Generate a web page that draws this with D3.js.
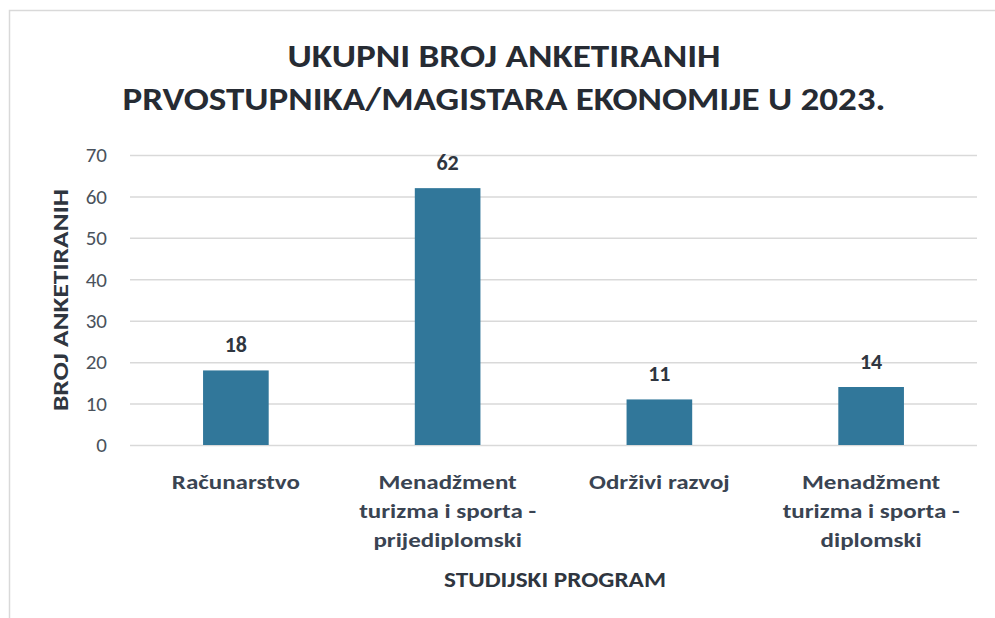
<!DOCTYPE html>
<html>

<head>
    <meta charset="utf-8">
    <title>Ukupni broj anketiranih</title>
    <script src="https://d3js.org/d3.v7.min.js"></script>
    <style>
        body { margin: 0; background: #ffffff; }
        svg text { font-family: Carlito, Calibri, Lato, sans-serif; }
    </style>
</head>

<body>
    <svg id="chart" width="995" height="618"></svg>

    <script>
        // data
        const categories = ['Računarstvo', 'Menadžment turizma i sporta - prijediplomski', 'Održivi razvoj', 'Menadžment turizma i sporta - diplomski'];
        const categoryLines = [
            ['Računarstvo'],
            ['Menadžment', 'turizma i sporta -', 'prijediplomski'],
            ['Održivi razvoj'],
            ['Menadžment', 'turizma i sporta -', 'diplomski']
        ];
        const values = [18, 62, 11, 14];
        const yTicks = [0, 10, 20, 30, 40, 50, 60, 70];
        const titleLines = ['UKUPNI BROJ ANKETIRANIH', 'PRVOSTUPNIKA/MAGISTARA EKONOMIJE U 2023.'];
        const yTitle = 'BROJ ANKETIRANIH';
        const xTitle = 'STUDIJSKI PROGRAM';

        let svg = d3.select('#chart');

        // chart border
        svg.append('rect')
            .attr('x', 9.5)
            .attr('y', 10.5)
            .attr('width', 1000)
            .attr('height', 700)
            .attr('fill', 'white')
            .attr('stroke', '#d9d9d9')
            .attr('stroke-width', 1.5);

        let x = d3.scaleBand()
            .domain(categories)
            .range([130, 977])
            .paddingInner(0.69)
            .paddingOuter(0.345);

        let y = d3.scaleLinear()
            .domain([0, 70])
            .range([445, 155]);

        // gridlines + tick labels
        let yAxis = svg.append('g')
            .attr('transform', 'translate(130,0)')
            .call(d3.axisLeft(y).tickValues(yTicks).tickSize(-847).tickPadding(23));
        yAxis.select('.domain').remove();
        yAxis.selectAll('.tick line')
            .attr('stroke', '#d9d9d9')
            .attr('stroke-width', 1.5);
        yAxis.selectAll('.tick text')
            .attr('fill', '#4a525c')
            .style('font-size', '21px');

        // bars
        svg.append('g').selectAll('rect')
            .data(values)
            .enter()
            .append('rect')
            .attr('x', (d, i) => x(categories[i]))
            .attr('y', d => y(d))
            .attr('width', x.bandwidth())
            .attr('height', d => y(0) - y(d))
            .attr('fill', '#31779a');

        // value labels
        svg.append('g').selectAll('text')
            .data(values)
            .enter()
            .append('text')
            .attr('x', (d, i) => x(categories[i]) + x.bandwidth() / 2)
            .attr('y', d => y(d) - 18)
            .attr('text-anchor', 'middle')
            .attr('fill', '#2f3640')
            .style('font-size', '22px')
            .style('font-weight', 'bold')
            .text(d => d);

        // category labels, stretched a little to the width of the original condensed face
        let catText = svg.append('g').selectAll('text')
            .data(categoryLines)
            .enter()
            .append('text')
            .attr('text-anchor', 'middle')
            .attr('fill', '#3a4452')
            .style('font-size', '20px')
            .style('font-weight', 'bold');
        catText.selectAll('tspan')
            .data((d, i) => d.map(t => ({ t: t, i: i })))
            .enter()
            .append('tspan')
            .attr('x', d => x(categories[d.i]) + x.bandwidth() / 2)
            .attr('y', (d, j) => 489 + j * 29)
            .text(d => d.t);
        catText.each(function() {
            d3.select(this).selectAll('tspan').each(function() {
                let w = this.getComputedTextLength();
                d3.select(this)
                    .attr('textLength', w * 1.25)
                    .attr('lengthAdjust', 'spacingAndGlyphs');
            });
        });

        // titles
        let titleWidths = [433, 763];
        svg.append('g').selectAll('text')
            .data(titleLines)
            .enter()
            .append('text')
            .attr('x', 504)
            .attr('y', (d, i) => 67 + i * 43)
            .attr('text-anchor', 'middle')
            .attr('fill', '#262b33')
            .attr('textLength', (d, i) => titleWidths[i])
            .attr('lengthAdjust', 'spacingAndGlyphs')
            .style('font-size', '33px')
            .style('font-weight', 'bold')
            .text(d => d);

        svg.append('text')
            .attr('transform', 'translate(68,300) rotate(-90)')
            .attr('text-anchor', 'middle')
            .attr('fill', '#2f3640')
            .attr('textLength', 222)
            .attr('lengthAdjust', 'spacingAndGlyphs')
            .style('font-size', '22px')
            .style('font-weight', 'bold')
            .text(yTitle);

        svg.append('text')
            .attr('x', 555)
            .attr('y', 587)
            .attr('text-anchor', 'middle')
            .attr('fill', '#2f3640')
            .attr('textLength', 222)
            .attr('lengthAdjust', 'spacingAndGlyphs')
            .style('font-size', '23px')
            .style('font-weight', 'bold')
            .text(xTitle);
    </script>
</body>

</html>
